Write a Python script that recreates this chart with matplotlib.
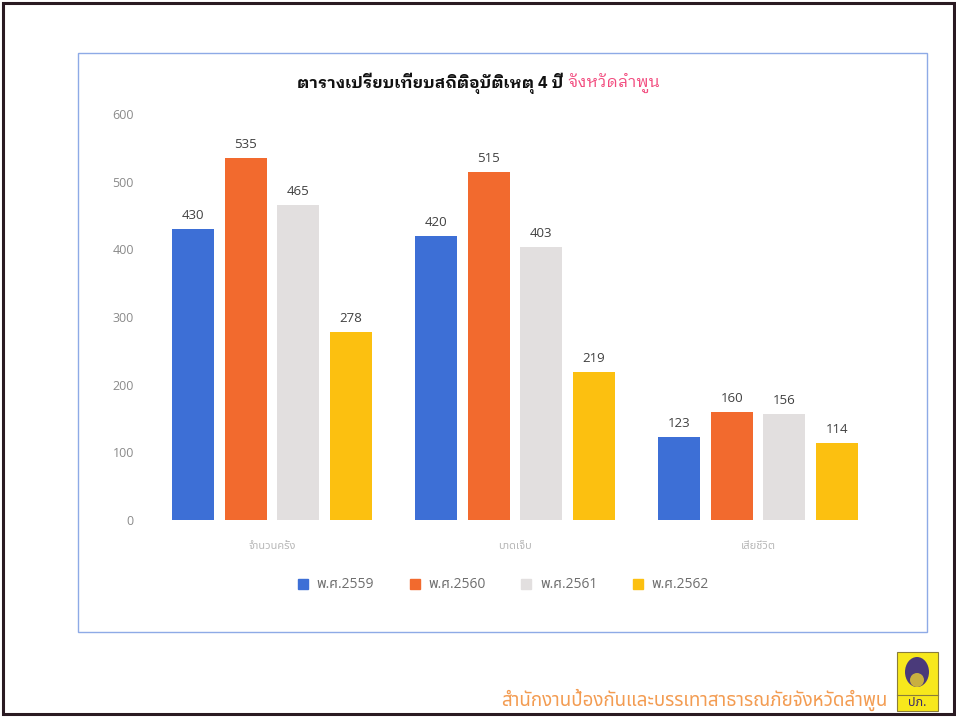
import matplotlib
matplotlib.use("Agg")
import matplotlib.pyplot as plt
from matplotlib import font_manager as fm
from matplotlib.patches import Rectangle, Ellipse
from matplotlib.lines import Line2D
import numpy as np

# ---------------- data ----------------
categories = ["จำนวนครั้ง", "บาดเจ็บ", "เสียชีวิต"]
series_names = ["พ.ศ.2559", "พ.ศ.2560", "พ.ศ.2561", "พ.ศ.2562"]
values_2559 = [430, 420, 123]
values_2560 = [535, 515, 160]
values_2561 = [465, 403, 156]
values_2562 = [278, 219, 114]
y_ticks = [0, 100, 200, 300, 400, 500, 600]
title_main = "ตารางเปรียบเทียบสถิติอุบัติเหตุ 4 ปี "
title_province = "จังหวัดลำพูน"
footer_text = "สำนักงานป้องกันและบรรเทาสาธารณภัยจังหวัดลำพูน"
logo_text = "ปภ."

series_values = [values_2559, values_2560, values_2561, values_2562]
colors = ["#3d6fd6", "#f26a2e", "#e2dfdf", "#fcc010"]

# ---------------- fonts ----------------
names = {f.name for f in fm.fontManager.ttflist}
def pick(*cands):
    return [c for c in cands if c in names] + ["DejaVu Sans"]

thai_looped = pick("IBM Plex Sans Thai Looped", "Noto Sans Thai Looped", "Sarabun", "Anuphan")
thai_plain = pick("Noto Sans Thai", "IBM Plex Sans Thai", "Anuphan", "Sarabun")
num_font = pick("Open Sans", "Noto Sans", "Noto Sans Thai", "IBM Plex Sans Thai")
mixed_font = pick("Open Sans", "Noto Sans Thai", "IBM Plex Sans Thai", "Anuphan")

W, H = 956, 718
fig = plt.figure(figsize=(W / 100, H / 100), dpi=100)
fig.patch.set_facecolor("white")

def fx(px):
    return px / W
def fy(py):
    return 1 - py / H

# outer dark frame
fig.patches.append(Rectangle((fx(3), fy(714)), fx(951), 711 / H, transform=fig.transFigure,
                             fill=False, edgecolor="#2a1a22", linewidth=2.2, zorder=0))
# inner chart frame
fig.patches.append(Rectangle((fx(78), fy(632)), fx(927 - 78), (632 - 53) / H, transform=fig.transFigure,
                             fill=False, edgecolor="#8eaae6", linewidth=1.0, zorder=0))

# ---------------- axes ----------------
ax = fig.add_axes([fx(150.5), fy(520), fx(879.5 - 150.5), (520 - 114) / H])
x = np.arange(len(categories))
step = 0.216
bw = 0.173
for j, (vals, col) in enumerate(zip(series_values, colors)):
    pos = x + (j - 1.5) * step
    bars = ax.bar(pos, vals, width=bw, color=col, label=series_names[j], zorder=2)
    for b, v in zip(bars, vals):
        ax.annotate(str(v), (b.get_x() + b.get_width() / 2, v), xytext=(0, 5),
                    textcoords="offset points", ha="center", va="bottom",
                    fontsize=9.5, color="#404040", family=num_font)

ax.set_xlim(-0.5, len(categories) - 0.5)
ax.set_ylim(0, 600)
ax.set_yticks(y_ticks)
ax.set_yticklabels([str(t) for t in y_ticks], family=num_font, fontsize=9, color="#8a8a8a")
ax.set_xticks(x)
ax.set_xticklabels(categories, family=thai_plain, fontsize=8, color="#b8b8b8")
ax.tick_params(axis="y", length=0, pad=12)
ax.tick_params(axis="x", length=0, pad=15)
for s in ax.spines.values():
    s.set_visible(False)
ax.set_facecolor("none")

# ---------------- title ----------------
t1 = fig.text(fx(297), fy(83), title_main, ha="left", va="center", fontsize=11.8,
              fontweight="bold", family=thai_looped, color="#111111")
fig.canvas.draw()
bb = t1.get_window_extent()
fig.text(bb.x1 / W, fy(83), title_province, ha="left", va="center", fontsize=11.8,
         family=thai_looped, color="#f24b7e")

# ---------------- legend ----------------
handles = [Line2D([], [], marker="s", linestyle="none", markersize=7.5, color=c,
                  markeredgecolor=c) for c in colors]
leg = fig.legend(handles, series_names, loc="center", bbox_to_anchor=(fx(503), fy(585)),
                 ncol=4, frameon=False, handlelength=0.8, handletextpad=0.6,
                 columnspacing=2.5, prop={"family": mixed_font, "size": 10})
for t in leg.get_texts():
    t.set_color("#6f6f6f")

# ---------------- footer ----------------
fig.text(fx(888), fy(700), footer_text, ha="right", va="center", fontsize=13.5,
         family=thai_plain, color="#f39c52")

# logo
lx0, ly0, lx1, ly1 = 897, 652, 938, 711
fig.patches.append(Rectangle((fx(lx0), fy(ly1)), fx(lx1 - lx0), (ly1 - ly0) / H,
                             transform=fig.transFigure, facecolor="#f7e81c",
                             edgecolor="#8a7d3a", linewidth=0.8, zorder=3))
fig.patches.append(Ellipse((fx(917), fy(672)), fx(24), 30 / H, transform=fig.transFigure,
                           facecolor="#4a3a7a", edgecolor="none", zorder=4))
fig.patches.append(Ellipse((fx(917), fy(680)), fx(14), 14 / H, transform=fig.transFigure,
                           facecolor="#c9b040", edgecolor="none", zorder=5))
fig.lines.append(Line2D([fx(lx0), fx(lx1)], [fy(695), fy(695)], transform=fig.transFigure,
                        color="#8a7d3a", linewidth=0.8, zorder=5))
fig.text(fx(917.5), fy(703), logo_text, ha="center", va="center", fontsize=9,
         fontweight="bold", family=thai_plain, color="#3a2a6a", zorder=6)

fig.savefig("out.png", dpi=100, facecolor="white")
